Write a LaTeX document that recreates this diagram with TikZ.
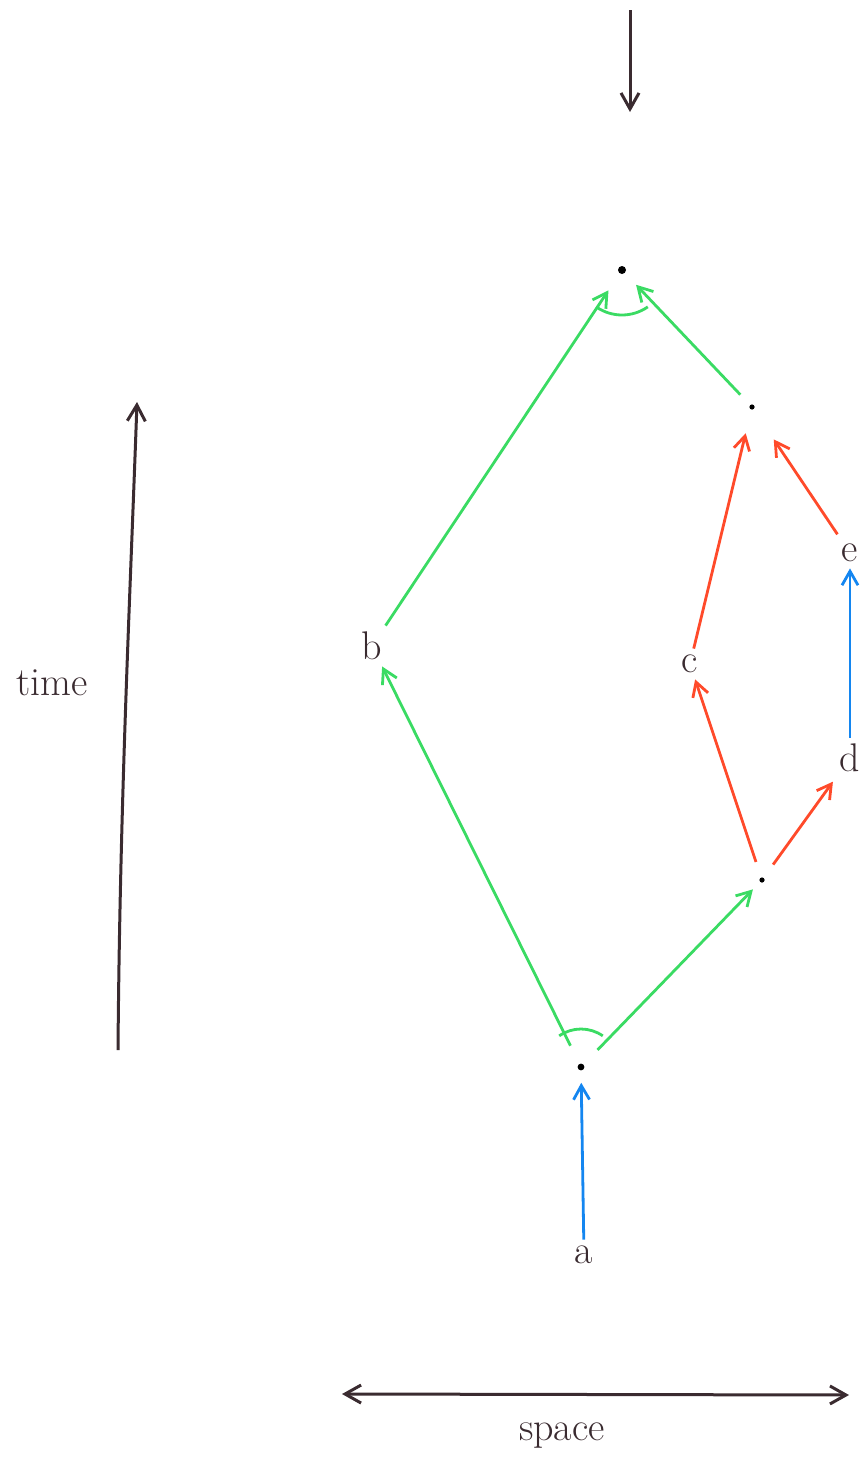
\documentclass[tikz,border=0pt]{standalone}
\usepackage{xcolor}
\usepackage{tikz}
\usetikzlibrary{arrows.meta,positioning}
\definecolor{ink}{HTML}{3A2B30}
\definecolor{leaf}{HTML}{3ADB63}
\definecolor{flame}{HTML}{FF4A2A}
\definecolor{sky}{HTML}{1486F0}
\tikzset{
  evt/.style={circle, fill=black, inner sep=0pt, minimum size=3.4pt},
  lbl/.style={text=ink, inner sep=3pt, font=\fontsize{20}{24}\selectfont},
  axis/.style={draw=ink, line width=1.5pt},
  greenflow/.style={-{Straight Barb[length=7pt,width=8pt]}, draw=leaf, line width=1.4pt},
  redflow/.style={-{Straight Barb[length=7pt,width=8pt]}, draw=flame, line width=1.4pt},
  blueflow/.style={-{Straight Barb[length=7pt,width=8pt]}, draw=sky, line width=1.4pt},
  anglemark/.style={draw=leaf, line width=1.4pt}
}
\begin{document}
\begin{tikzpicture}[x=0.5pt, y=-0.5pt]
 \useasboundingbox (0,0) rectangle (864,1467);
 % events
 \node[evt, minimum size=4pt] (top) at (622,270) {};
 \node[evt, minimum size=2.6pt] (r1) at (752,407) {};
 \node[evt, minimum size=2.6pt] (r2) at (762,880) {};
 \node[evt] (bot) at (581,1067) {};
 \node[lbl] (a) at (584,1255) {a};
 \node[lbl] (b) at (372,646) {b};
 \node[lbl] (c) at (690,664) {c};
 \node[lbl] (d) at (850,758) {d};
 \node[lbl] (e) at (850,553) {e};
 % axes
 \coordinate (in0) at (630,10); \coordinate (in1) at (630,112);
 \coordinate (t0) at (118,1050); \coordinate (t1) at (137,402);
 \coordinate (s0) at (342,1394); \coordinate (s1) at (849,1395);
 \draw[axis, -{Straight Barb[length=8pt,width=9pt]}] (in0) -- (in1);
 \draw[axis, -{Straight Barb[length=8pt,width=9pt]}] (t0) .. controls (120,800) and (130,600) .. (t1);
 \draw[axis, {Straight Barb[length=8pt,width=9pt]}-{Straight Barb[length=8pt,width=9pt]}] (s0) -- (s1);
 \node[lbl] (time) at (52,683) {time};
 \node[lbl] (space) at (562,1436) {space};
 % flows
 \draw[blueflow, shorten >=6pt] (a) -- (bot);
 \draw[greenflow, shorten <=10pt] (bot) -- (b);
 \draw[greenflow, shorten <=10pt, shorten >=5pt] (bot) -- (r2);
 \draw[redflow, shorten <=8pt] (r2) -- (c);
 \draw[redflow, shorten <=8pt, shorten >=2pt] (r2) -- (d);
 \draw[blueflow] (d) -- (e);
 \draw[redflow, shorten >=12pt] (c) -- (r1);
 \draw[redflow, shorten <=2pt, shorten >=18pt] (e) -- (r1);
 \draw[greenflow, shorten >=10pt] (b) -- (top);
 \draw[greenflow, shorten <=7pt, shorten >=8pt] (r1) -- (top);
 % angle marks
 \draw[anglemark] ([shift={(125:45)}]top.center) arc[start angle=235, end angle=305, radius=22.5pt];
 \draw[anglemark] ([shift={(235:38)}]bot.center) arc[start angle=125, end angle=55, radius=19pt];
\end{tikzpicture}
\end{document}
